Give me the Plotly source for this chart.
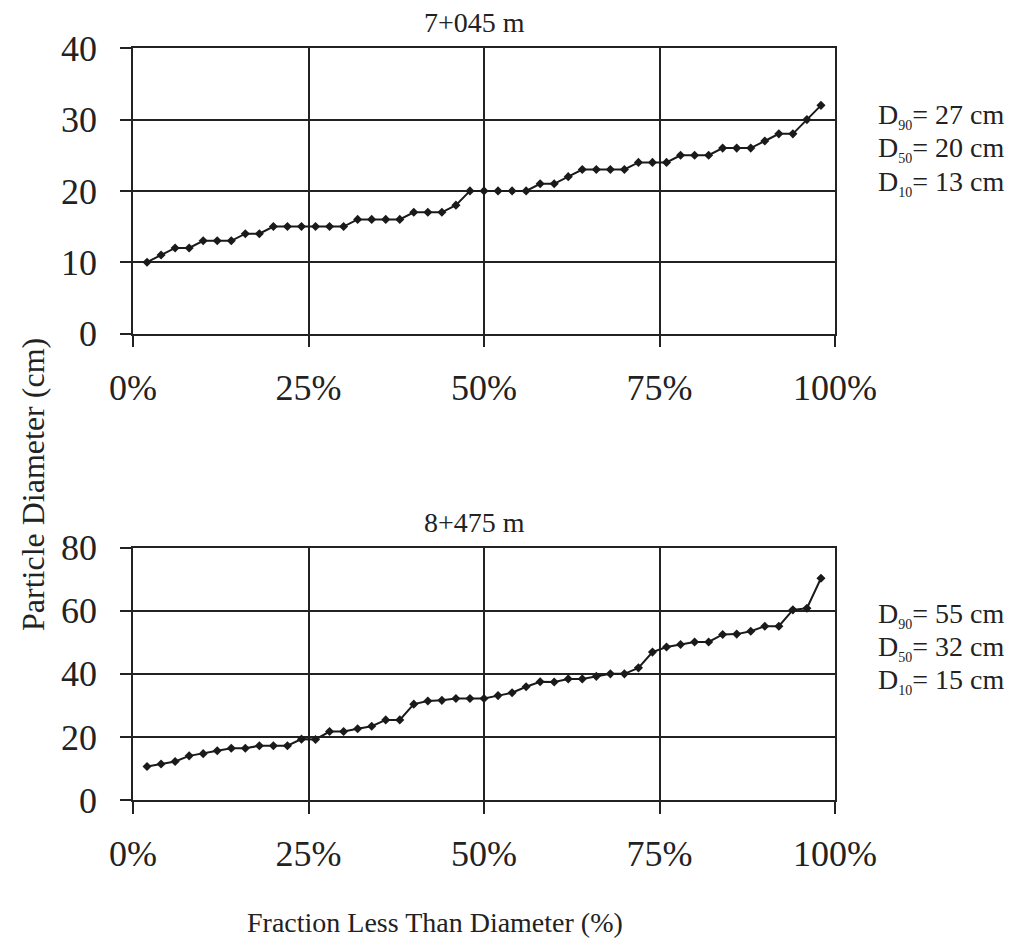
import plotly.graph_objects as go

# ---- data ----
fraction_pct = [2, 4, 6, 8, 10, 12, 14, 16, 18, 20, 22, 24, 26, 28, 30, 32, 34, 36, 38, 40,
                42, 44, 46, 48, 50, 52, 54, 56, 58, 60, 62, 64, 66, 68, 70, 72, 74, 76, 78, 80,
                82, 84, 86, 88, 90, 92, 94, 96, 98]
diam_7045 = [10, 11, 12, 12, 13, 13, 13, 14, 14, 15, 15, 15, 15, 15, 15, 16, 16, 16, 16, 17,
             17, 17, 18, 20, 20, 20, 20, 20, 21, 21, 22, 23, 23, 23, 23, 24, 24, 24, 25, 25,
             25, 26, 26, 26, 27, 28, 28, 30, 32]
diam_8475 = [10.6, 11.4, 12.2, 14, 14.7, 15.6, 16.4, 16.4, 17.2, 17.2, 17.2, 19.3, 19.2, 21.7,
             21.7, 22.6, 23.4, 25.4, 25.4, 30.4, 31.4, 31.6, 32.2, 32.2, 32.2, 33.1, 34, 35.9,
             37.5, 37.4, 38.4, 38.4, 39.2, 40, 40, 41.9, 46.9, 48.5, 49.3, 50.1, 50.1, 52.5,
             52.6, 53.5, 55.1, 55.1, 60.3, 60.8, 70.3]
x_tickvals = [0, 25, 50, 75, 100]
x_ticktext = ["0%", "25%", "50%", "75%", "100%"]
titles = ["7+045 m", "8+475 m"]
stats_7045 = [("90", 27), ("50", 20), ("10", 13)]
stats_8475 = [("90", 55), ("50", 32), ("10", 15)]

W, H = 1011, 942
FONT = "Liberation Serif"
INK = "#222222"

def px(x):
    return x / W

def py(y):
    return 1 - y / H

fig = go.Figure()
line_style = dict(color="#1a1a1a", width=2)
marker_style = dict(symbol="diamond", size=7, color="#1a1a1a")
fig.add_trace(go.Scatter(x=fraction_pct, y=diam_7045, mode="lines+markers",
                         line=line_style, marker=marker_style, xaxis="x", yaxis="y",
                         showlegend=False))
fig.add_trace(go.Scatter(x=fraction_pct, y=diam_8475, mode="lines+markers",
                         line=line_style, marker=marker_style, xaxis="x2", yaxis="y2",
                         showlegend=False))

xdom = [px(133), px(835)]
common_x = dict(range=[0, 100], tickvals=x_tickvals, ticktext=x_ticktext,
                showgrid=True, gridcolor=INK, gridwidth=1.6,
                showline=True, mirror=True, linecolor=INK, linewidth=1.6,
                ticks="outside", ticklen=12, tickwidth=1.6, tickcolor=INK,
                ticklabelstandoff=9, zeroline=False, automargin=False,
                tickfont=dict(family=FONT, size=36, color=INK), fixedrange=True)
common_y = dict(showgrid=True, gridcolor=INK, gridwidth=1.6,
                showline=True, mirror=True, linecolor=INK, linewidth=1.6,
                ticks="outside", ticklen=11, tickwidth=1.6, tickcolor=INK,
                ticklabelstandoff=16, zeroline=False, automargin=False,
                tickfont=dict(family=FONT, size=36, color=INK), fixedrange=True)

fig.update_layout(
    width=W, height=H,
    margin=dict(l=0, r=0, t=0, b=0),
    paper_bgcolor="white", plot_bgcolor="white",
    xaxis=dict(domain=xdom, anchor="y", **common_x),
    yaxis=dict(domain=[py(333.5), py(48.3)], anchor="x", range=[0, 40], dtick=10, **common_y),
    xaxis2=dict(domain=xdom, anchor="y2", **common_x),
    yaxis2=dict(domain=[py(800), py(547.7)], anchor="x2", range=[0, 80], dtick=20, **common_y),
)

ann = []
for t, yc in zip(titles, [23, 522]):
    ann.append(dict(text=t, x=px(474), y=py(yc), xref="paper", yref="paper",
                    xanchor="center", yanchor="middle", showarrow=False,
                    font=dict(family=FONT, size=28, color=INK)))

for stats, ys in [(stats_7045, [116, 149, 183]), (stats_8475, [615, 648, 681])]:
    for (sub, val), yc in zip(stats, ys):
        ann.append(dict(text=(f"D<sub><span style='font-size:14px'>{sub}</span></sub>"
                              f"= {val} cm"),
                        x=px(876), y=py(yc),
                        xref="paper", yref="paper", xanchor="left", yanchor="middle",
                        showarrow=False, font=dict(family=FONT, size=28, color=INK)))

ann.append(dict(text="Fraction Less Than Diameter (%)", x=px(435), y=py(922),
                xref="paper", yref="paper", xanchor="center", yanchor="middle",
                showarrow=False, font=dict(family=FONT, size=28, color=INK)))
ann.append(dict(text="Particle Diameter (cm)", x=px(33), y=py(485), textangle=-90,
                xref="paper", yref="paper", xanchor="center", yanchor="middle",
                showarrow=False, font=dict(family=FONT, size=32, color=INK)))
fig.update_layout(annotations=ann)

fig.write_html("out.html", config={"displayModeBar": False},
               post_script="document.body.style.margin='0';document.body.style.padding='0';")
